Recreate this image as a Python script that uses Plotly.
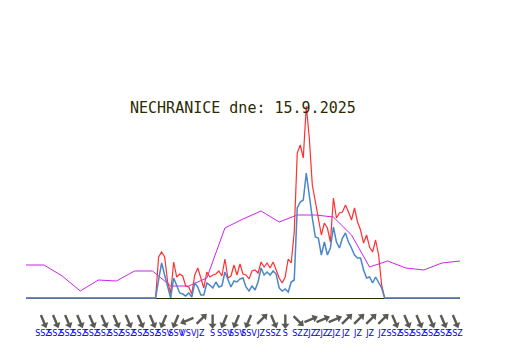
import math
import plotly.graph_objects as go

hours = [i / 6 for i in range(145)]
lead = [0.0] * 43
trail = [0.0] * 26
gust_active = [0, 4.1, 4.6, 4.1, 1.6, 0.5, 3.6, 2.1, 2.4, 2.2, 1.2, 1.1, 0.4, 2.3, 3.0, 2.0, 1.0, 2.6, 2.1, 2.3, 2.4, 2.7, 2.2, 3.9, 2.0, 2.2, 3.3, 2.3, 3.4, 2.4, 2.3, 1.9, 2.7, 2.8, 2.5, 3.6, 3.1, 3.5, 3.0, 3.6, 2.8, 2.0, 1.5, 2.1, 3.9, 3.5, 6.6,
               14.5, 15.3, 14.0, 19.2, 16.0, 11.3, 9.6, 8.3, 6.3, 7.5, 7.0, 5.6, 10.0, 8.0, 8.5, 8.6, 9.3, 8.6, 7.8, 9.0, 7.6, 6.8, 5.5, 6.3, 5.1, 4.6, 5.8, 4.3, 1.3]
wind_active = [0, 1.8, 3.5, 2.3, 1.1, 0, 2.0, 1.3, 0.5, 0.4, 0.2, 0.5, 0.1, 1.5, 1.1, 0.3, 0.3, 1.5, 1.3, 1.0, 1.6, 1.1, 1.2, 2.6, 1.8, 1.1, 1.7, 1.6, 1.9, 2.0, 1.1, 0.7, 1.2, 0.8, 1.6, 3.0, 2.3, 2.6, 2.3, 2.7, 2.4, 1.0, 0.7, 0.9, 0.6, 1.6, 1.8,
               9.0, 9.6, 9.8, 12.5, 10.0, 8.0, 6.1, 6.0, 4.3, 5.6, 4.3, 5.0, 7.1, 5.6, 5.0, 6.0, 6.5, 5.6, 5.0, 4.3, 4.0, 4.0, 2.8, 2.0, 2.1, 1.5, 2.1, 1.6, 1.0]
gust = lead + gust_active + trail
wind = lead + wind_active + trail

temp_hours = list(range(25))
temp = [3.3, 3.3, 2.2, 0.7, 1.8, 1.7, 2.7, 2.7, 1.2, 1.2, 2.0, 7.0, 7.9, 8.7, 7.6, 8.3, 8.3, 8.1, 6.3, 3.1, 3.7, 3.0, 2.8, 3.5, 3.7]

wind_dir = ["SSZ"] * 10 + ["SSV", "SSV", "VSV", "JZ", "S", "SSV", "SSV", "SSV", "JZ", "SSZ", "S", "SZ",
            "ZJZ", "ZJZ", "ZJZ", "JZ", "JZ", "JZ", "JZ"] + ["SSZ"] * 6
heading = {"SSZ": 157.5, "SSV": 202.5, "VSV": 247.5, "JZ": 45, "S": 180, "SZ": 135, "ZJZ": 67.5}
dir_hours = [0.94 + i * 0.67 for i in range(35)]
title_text = "NECHRANICE dne: 15.9.2025"

fig = go.Figure()
fig.add_trace(go.Scatter(x=temp_hours, y=temp, mode="lines", line=dict(color="#cc22ee", width=1)))
fig.add_trace(go.Scatter(x=hours, y=gust, mode="lines", line=dict(color="#ff3030", width=1.2), cliponaxis=False))
fig.add_trace(go.Scatter(x=hours, y=wind, mode="lines", line=dict(color="#4a86cc", width=1.5), cliponaxis=False))

sx, sy = [], []
tx, ty, ang = [], [], []
for h, d in zip(dir_hours, wind_dir):
    a = math.radians(heading[d])
    hx, hy = 5.5 * math.sin(a) / 18.08, 5.5 * math.cos(a) / 10
    sx += [h - hx, h + hx, None]
    sy += [-2.2 - hy, -2.2 + hy, None]
    tx.append(h + hx)
    ty.append(-2.2 + hy)
    ang.append(heading[d])
fig.add_trace(go.Scatter(x=sx, y=sy, mode="lines", cliponaxis=False, line=dict(color="#5a5a55", width=2.4)))
fig.add_trace(go.Scatter(x=tx, y=ty, mode="markers", cliponaxis=False,
                         marker=dict(symbol="triangle-up", size=7, angle=ang, color="#5a5a55", line=dict(width=0))))
fig.add_trace(go.Scatter(x=dir_hours, y=[-3.6] * 35, mode="text", text=wind_dir, cliponaxis=False,
                         textfont=dict(family="DejaVu Sans", size=8, color="#0000ee")))

fig.update_layout(
    width=516, height=344, showlegend=False, paper_bgcolor="white", plot_bgcolor="white",
    margin=dict(l=18, r=64, t=90, b=0),
    annotations=[dict(x=0.5, y=1.005, xref="paper", yref="paper", text=title_text, showarrow=False,
                      font=dict(family="DejaVu Sans Mono", size=15, color="#2b2b00"))],
    xaxis=dict(range=[0, 24], visible=False),
    yaxis=dict(range=[-5.4, 20], showgrid=False, showticklabels=False, ticks="",
               zeroline=True, zerolinecolor="#2b2b00", zerolinewidth=1),
)
fig.write_html("out.html")
